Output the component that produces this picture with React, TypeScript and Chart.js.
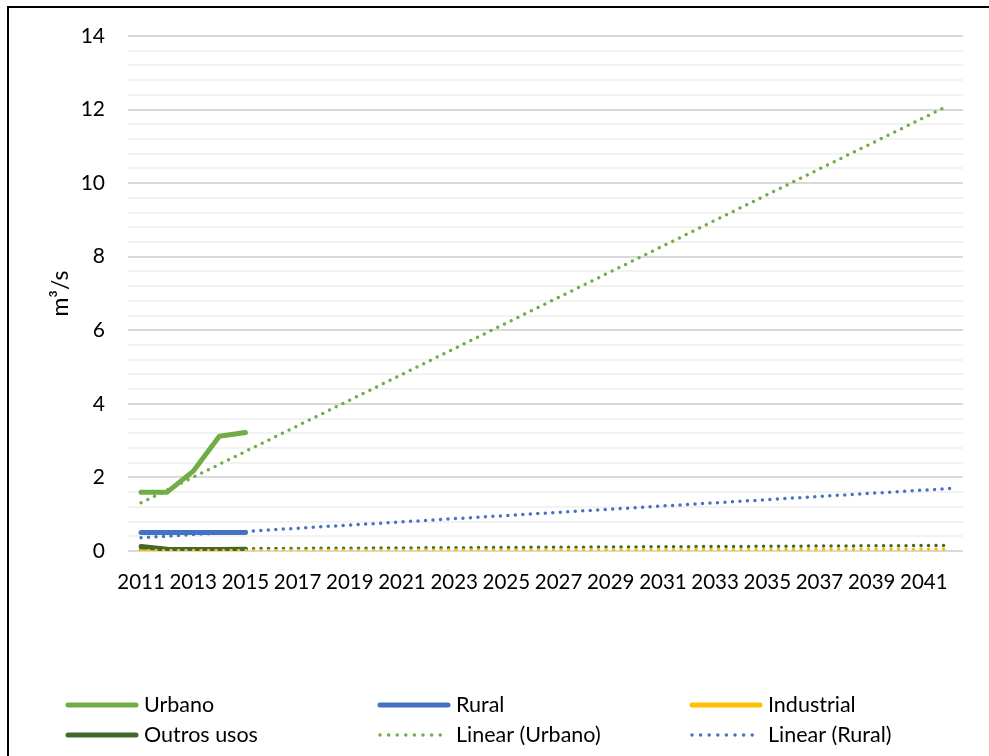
import React, { useEffect, useRef } from "react";
import { Chart, registerables } from "chart.js";

Chart.register(...registerables);

// ---- data ----
const years = [2011, 2012, 2013, 2014, 2015];
const urbano = [1.6, 1.6, 2.17, 3.12, 3.22];
const rural = [0.5, 0.5, 0.5, 0.5, 0.5];
const industrial = [0.02, 0.02, 0.02, 0.02, 0.02];
const outros = [0.12, 0.05, 0.04, 0.04, 0.05];

// trendline endpoints (x = year, y = m³/s)
const trendUrbanoX = [2011, 2041.77];
const trendUrbanoY = [1.31, 12.05];
const trendRuralX = [2011, 2042.03];
const trendRuralY = [0.36, 1.7];
const trendIndustrialX = [2011, 2041.77];
const trendIndustrialY = [0.01, 0.05];
const trendOutrosX = [2011, 2041.77];
const trendOutrosY = [0.05, 0.15];

const xTickYears = [2011, 2013, 2015, 2017, 2019, 2021, 2023, 2025, 2027, 2029, 2031, 2033, 2035, 2037, 2039, 2041];
const yMax = 14;
const yMinorStep = 0.4;
const yMajorStep = 2;

const GREEN = "#70AD47";
const BLUE = "#4472C4";
const YELLOW = "#FFC000";
const DKGREEN = "#43682B";
const FONT = "Lato, 'DejaVu Sans', sans-serif";

const pts = (xs: number[], ys: number[]) => xs.map((x, i) => ({ x, y: ys[i] }));

const legendOrder = ["Urbano", "Rural", "Industrial", "Outros usos", "Linear (Urbano)", "Linear (Rural)"];

const legendPlugin = {
  id: "gridLegend",
  afterDraw(chart: any) {
    const ctx = chart.ctx;
    const colX = [66, 378, 690];
    const rowY = [705, 735];
    ctx.save();
    ctx.font = "21.5px " + FONT;
    ctx.textBaseline = "middle";
    ctx.fillStyle = "#000";
    legendOrder.forEach((name, i) => {
      const ds = chart.data.datasets.find((d: any) => d.label === name);
      if (!ds) return;
      const x = colX[i % 3];
      const y = rowY[Math.floor(i / 3)];
      ctx.beginPath();
      ctx.strokeStyle = ds.borderColor;
      ctx.lineCap = "round";
      if (ds.borderDash && ds.borderDash.length) {
        ctx.lineWidth = 3.5;
        ctx.setLineDash([0, 8.6]);
      } else {
        ctx.lineWidth = 5;
        ctx.setLineDash([]);
      }
      ctx.moveTo(x + 2, y);
      ctx.lineTo(x + 70, y);
      ctx.stroke();
      ctx.setLineDash([]);
      ctx.fillText(name, x + 78, y);
    });
    ctx.restore();
  },
};

export default function App() {
  const ref = useRef<HTMLCanvasElement>(null);
  useEffect(() => {
    if (!ref.current) return;
    const solid = (label: string, data: number[], color: string) => ({
      label,
      data: pts(years, data),
      borderColor: color,
      backgroundColor: color,
      borderWidth: 5,
      pointRadius: 0,
      borderCapStyle: "round",
      borderJoinStyle: "round",
      fill: false,
    });
    const dotted = (label: string, xs: number[], ys: number[], color: string) => ({
      label,
      data: pts(xs, ys),
      borderColor: color,
      backgroundColor: color,
      borderWidth: 3.5,
      borderDash: [0, 7.5],
      borderCapStyle: "round",
      pointRadius: 0,
      fill: false,
    });
    const chart = new Chart(ref.current, {
      type: "line",
      data: {
        datasets: [
          dotted("Linear (Urbano)", trendUrbanoX, trendUrbanoY, GREEN),
          dotted("Linear (Rural)", trendRuralX, trendRuralY, BLUE),
          dotted("Linear (Industrial)", trendIndustrialX, trendIndustrialY, YELLOW),
          dotted("Linear (Outros usos)", trendOutrosX, trendOutrosY, DKGREEN),
          solid("Urbano", urbano, GREEN),
          solid("Rural", rural, BLUE),
          solid("Outros usos", outros, DKGREEN),
          solid("Industrial", industrial, YELLOW),
        ] as any,
      },
      options: {
        animation: false,
        responsive: false,
        layout: { padding: { top: 36, right: 26, bottom: 160, left: 0 } },
        plugins: { legend: { display: false }, tooltip: { enabled: false } },
        scales: {
          x: {
            type: "linear",
            min: 2010.5,
            max: 2042.5,
            afterBuildTicks: (scale: any) => {
              scale.ticks = xTickYears.map((v) => ({ value: v }));
            },
            afterFit: (scale: any) => {
              scale.height = 45;
            },
            grid: { display: false, drawTicks: false },
            border: { display: false },
            ticks: {
              autoSkip: false,
              maxRotation: 0,
              padding: 19,
              color: "#000",
              font: { family: FONT, size: 20.5 },
              callback: (v: any) => String(v),
            },
          },
          y: {
            type: "linear",
            min: 0,
            max: yMax,
            afterBuildTicks: (scale: any) => {
              const t: any[] = [];
              for (let i = 0; i <= Math.round(yMax / yMinorStep); i++) t.push({ value: Math.round(i * yMinorStep * 10) / 10 });
              scale.ticks = t;
            },
            afterFit: (scale: any) => {
              scale.width = 128;
            },
            grid: {
              drawTicks: false,
              lineWidth: 2,
              color: (c: any) => {
                const v = c.tick ? c.tick.value : 0;
                return Math.abs(v / yMajorStep - Math.round(v / yMajorStep)) < 1e-6 ? "#D9D9D9" : "#F2F2F2";
              },
            },
            border: { display: false },
            ticks: {
              autoSkip: false,
              padding: 23,
              color: "#000",
              font: { family: FONT, size: 21 },
              callback: (v: any) => (Math.abs(v / yMajorStep - Math.round(v / yMajorStep)) < 1e-6 ? String(Math.round(v)) : ""),
            },
            title: {
              display: true,
              text: "m³/s",
              color: "#000",
              font: { family: FONT, size: 23 },
              padding: { top: 47, bottom: 0 },
            },
          },
        },
      },
      plugins: [legendPlugin],
    });
    return () => chart.destroy();
  }, []);
  return (
    <div style={{ position: "fixed", left: 0, top: 0, width: 989, height: 756, background: "#fff", overflow: "hidden" }}>
      <canvas ref={ref} width={989} height={756} style={{ position: "absolute", left: 0, top: 0 }} />
      <div style={{ position: "absolute", left: 7, top: 6, width: 1200, height: 1000, borderTop: "2px solid #000", borderLeft: "2px solid #000" }} />
    </div>
  );
}
